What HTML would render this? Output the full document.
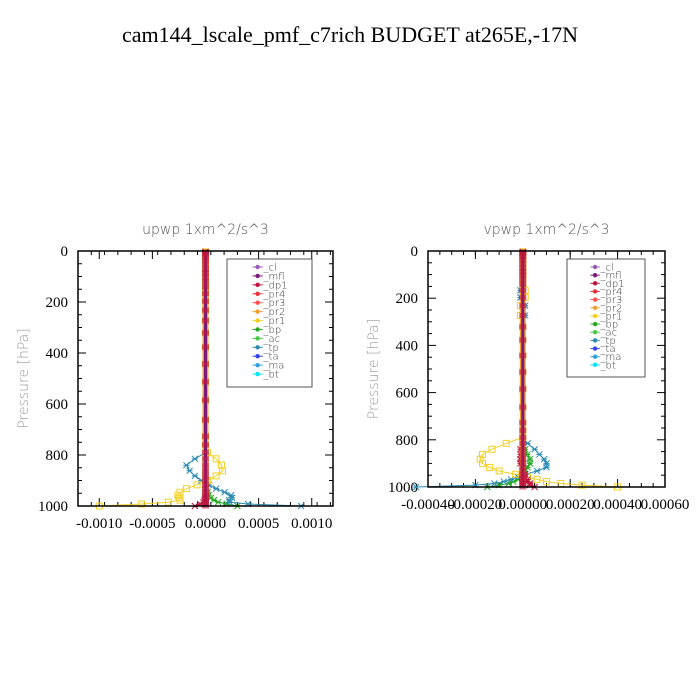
<!DOCTYPE html>
<html><head><meta charset="utf-8">
<style>
body{margin:0;background:#fff}
svg{display:block}
.t{font-family:"Liberation Serif",serif}
.s{font-family:"DejaVu Sans","Liberation Sans",sans-serif;font-weight:200}
</style></head>
<body>
<svg id="c" width="700" height="700" viewBox="0 0 700 700">
<rect width="700" height="700" fill="#fff"/>
<text class="t" x="350" y="42" font-size="22" text-anchor="middle">cam144_lscale_pmf_c7rich  BUDGET at265E,-17N</text>
</svg>
<script>
// pressure levels (hPa)
const levels=[3.5,7.4,14,24,37,54,72,87,103,121,142,167,197,232,273,321,377,443,513,585,662,727,760,790,815,840,862,882,900,917,932,946,958,968,977,985,992,1000];
const seriesNames=["_cl","_mfl","_dp1","_pr4","_pr3","_pr2","_pr1","_bp","_ac","_tp","_ta","_ma","_bt"];
const seriesColors=["#9b59b6","#7b1a7b","#c0143c","#e8303a","#ff5050","#f0a030","#f5d020","#22aa22","#44cc44","#2a8ab0","#3344ee","#30a0e0","#00e5ff"];
const upPr1=[0,0,0,0,0,0,0,0,0,0,0,0,0,0,0,0,0,0,0,0,0,0,0,0.00002,0.0001,0.00015,0.00016,0.0001,0.00002,-0.00008,-0.00018,-0.00024,-0.00026,-0.00025,-0.00024,-0.00035,-0.0006,-0.001];
const upTp=[0,0,0,0,0,0,0,0,0,0,0,0,0,0,0,0,0,0,0,0,0,0,0,0,-0.0001,-0.00018,-0.00015,-0.0001,-0.00004,0.00003,0.0001,0.00018,0.00024,0.00025,0.00022,0.00023,0.0004,0.0009];
const upBp=[0,0,0,0,0,0,0,0,0,0,0,0,0,0,0,0,0,0,0,0,0,0,0,0,0,0,0,0,0,0,0.00001,0.00002,0.00003,0.00005,0.00008,0.00012,0.0002,0.0003];
const upDp=[0,0,0,0,0,0,0,0,0,0,0,0,0,0,0,0,0,0,0,0,0,0,0,0,0,0,0,0,0,0,0,0,0,0,-0.00001,-0.00002,-0.00005,-0.0001];
const vPr1=[0,0,0,0,0,0,0,0,0,0,0,0.00001,0.00001,-0.00001,-0.00001,0,0,0,0,0,0,0,0,0,-0.00007,-0.00013,-0.00017,-0.00018,-0.00017,-0.00014,-0.0001,-0.00003,0.00002,0.00006,0.0001,0.00016,0.00025,0.0004];
const vTp=[0,0,0,0,0,0,0,0,0,0,0,-0.00001,-0.00001,0.00001,0.00001,0,0,0,0,0,0,0,0,0,0.00002,0.00005,0.00007,0.00009,0.0001,0.0001,0.00006,0.00001,-0.00002,-0.00005,-0.00008,-0.00012,-0.0002,-0.00045];
const vBp=[0,0,0,0,0,0,0,0,0,0,0,0,0,0,0,0,0,0,0,0,0,0,0,0,0,0.00001,0.00002,0.00003,0.00003,0.00002,0.00001,0,-0.00001,-0.00002,-0.00004,-0.00006,-0.0001,-0.00015];
const vDp=[0,0,0,0,0,0,0,0,0,0,0,0,0,0,0,0,0,0,0,0,0,0,0,0,0,-0.00001,-0.00001,-0.00001,-0.00001,0,0,0.00001,0.00001,0.00002,0.00002,0.00003,0.00003,0.00005];
const upTicks=[-0.001,-0.0005,0,0.0005,0.001];
const upTickLabels=["-0.0010","-0.0005","0.0000","0.0005","0.0010"];
const vTicks=[-0.0004,-0.0002,0,0.0002,0.0004,0.0006];
const vTickLabels=["-0.00040","-0.00020","0.00000","0.00020","0.00040","0.00060"];
const yTicks=[0,200,400,600,800,1000];

const svg=document.getElementById('c');
const NS="http://www.w3.org/2000/svg";
function mk(tag,attrs,parent){const e=document.createElementNS(NS,tag);for(const k in attrs)e.setAttribute(k,attrs[k]);(parent||svg).appendChild(e);return e;}

function panel(cfg){
  const g=mk('g',{});
  
  
  const X=v=>cfg.x0+(v-cfg.xmin)/(cfg.xmax-cfg.xmin)*(cfg.x1-cfg.x0);
  const Y=p=>cfg.y0+p/1000*(cfg.y1-cfg.y0);
  const tt=mk('text',{x:(cfg.x0+cfg.x1)/2,y:234,'font-size':14,'text-anchor':'middle',fill:'#555','class':'s'},g);
  tt.textContent=cfg.title;
  
  
  const yl=mk('text',{x:0,y:0,'font-size':14,'text-anchor':'middle',fill:'#999','class':'s',transform:`translate(${cfg.x0-50},${(cfg.y0+cfg.y1)/2}) rotate(-90)`},g);
  yl.textContent="Pressure [hPa]";
  
  
  for(let p=0;p<=1000;p+=50){
    const maj=p%200===0;const L=maj?8:4;
    mk('line',{x1:cfg.x0,x2:cfg.x0+L,y1:Y(p),y2:Y(p),stroke:'#000'},g);
    mk('line',{x1:cfg.x1,x2:cfg.x1-L,y1:Y(p),y2:Y(p),stroke:'#000'},g);
  }
  yTicks.forEach(p=>{
    const t=mk('text',{x:cfg.x0-10,y:Y(p)+5,'font-size':15,'text-anchor':'end','class':'t'},g);
    t.textContent=p;
    
    
  });
  cfg.ticks.forEach((v,i)=>{
    mk('line',{x1:X(v),x2:X(v),y1:cfg.y1,y2:cfg.y1-8,stroke:'#000'},g);
    mk('line',{x1:X(v),x2:X(v),y1:cfg.y0,y2:cfg.y0+8,stroke:'#000'},g);
    const t=mk('text',{x:X(v),y:cfg.y1+22,'font-size':15,'text-anchor':'middle','class':'t'},g);
    t.textContent=cfg.labels[i];
    
    
  });
  const step=(cfg.ticks[1]-cfg.ticks[0])/4;
  for(let v=cfg.xmin;v<=cfg.xmax+1e-12;v+=step){
    mk('line',{x1:X(v),x2:X(v),y1:cfg.y1,y2:cfg.y1-4,stroke:'#000'},g);
    mk('line',{x1:X(v),x2:X(v),y1:cfg.y0,y2:cfg.y0+4,stroke:'#000'},g);
  }
  const draw=(vals,col,nm,mark)=>{
    const pts=vals.map((v,i)=>X(v).toFixed(1)+','+Y(levels[i]).toFixed(1)).join(' ');
    const pl=mk('polyline',{points:pts,fill:'none',stroke:col,'stroke-width':1},g);
    
    
    vals.forEach((v,i)=>{
      const x=X(v),y=Y(levels[i]);
      if(mark==='sq')mk('rect',{x:x-3,y:y-3,width:6,height:6,fill:'none',stroke:col},g);
      else mk('path',{d:`M${x-3},${y-3}L${x+3},${y+3}M${x-3},${y+3}L${x+3},${y-3}M${x-3},${y}L${x+3},${y}`,stroke:col},g);
    });
  };
  draw(cfg.bp,seriesColors[7],'bp','x');
  draw(cfg.tp,seriesColors[9],'tp','x');
  draw(cfg.pr1,seriesColors[6],'pr1','sq');
  draw(cfg.dp,seriesColors[2],'dp1','x');
  const z=levels.map(()=>0);
  const zl=mk('polyline',{points:z.map((v,i)=>X(v)+','+Y(levels[i])).join(' '),fill:'none',stroke:'#f0a030','stroke-width':6},g);
  
  
  mk('polyline',{points:z.map((v,i)=>X(v)+','+Y(levels[i])).join(' '),fill:'none',stroke:'#7b1a7b','stroke-width':3},g);
  levels.forEach(p=>{mk('rect',{x:X(0)-3.5,y:Y(p)-2.5,width:7,height:5,fill:'#c0143c',opacity:0.6},g);});
  const fr=mk('rect',{x:cfg.x0,y:cfg.y0,width:cfg.x1-cfg.x0,height:cfg.y1-cfg.y0,fill:'none',stroke:'#000','stroke-width':1.5},g);
  
  
  const lg=mk('g',{},g);
  
  
  mk('rect',{x:cfg.lx,y:259,width:cfg.lw,height:cfg.lh,fill:'#fff',stroke:'#555'},lg);
  const dy=(cfg.lh-12)/13;
  seriesNames.forEach((n,i)=>{
    const y=267+i*dy;
    const it=mk('g',{},lg);
    
    
    mk('line',{x1:cfg.lx+cfg.lw*0.3,x2:cfg.lx+cfg.lw*0.42,y1:y,y2:y,stroke:seriesColors[i]},it);
    mk('circle',{cx:cfg.lx+cfg.lw*0.36,cy:y,r:2.2,fill:seriesColors[i]},it);
    const t=mk('text',{x:cfg.lx+cfg.lw*0.43,y:y+3.5,'font-size':10,fill:'#333','class':'s'},it);
    t.textContent=n;
  });
}
panel({name:'upwp-panel',title:'upwp   1xm^2/s^3',x0:78,x1:333,y0:251,y1:506,xmin:-0.0012,xmax:0.0012,ticks:upTicks,labels:upTickLabels,pr1:upPr1,tp:upTp,bp:upBp,dp:upDp,lx:227,lw:85,lh:128});
panel({name:'vpwp-panel',title:'vpwp   1xm^2/s^3',x0:428,x1:665,y0:251,y1:487,xmin:-0.0004,xmax:0.0006,ticks:vTicks,labels:vTickLabels,pr1:vPr1,tp:vTp,bp:vBp,dp:vDp,lx:567,lw:78,lh:118});
</script>
</body></html>
